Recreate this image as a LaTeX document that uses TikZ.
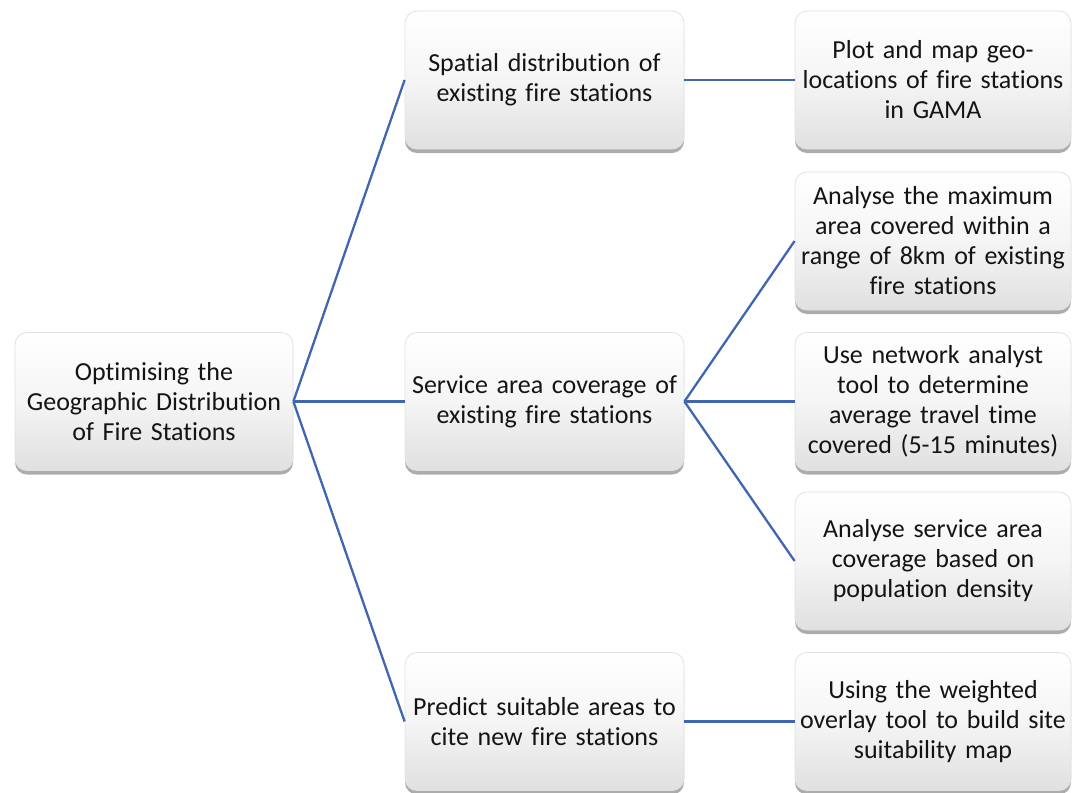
\documentclass[tikz,border=0pt]{standalone}
\usepackage{fontspec}
\setmainfont{Carlito}[Ligatures=NoCommon]
\usetikzlibrary{shadows}
\definecolor{linkblue}{RGB}{64,102,176}
\definecolor{boxline}{RGB}{225,225,225}
\definecolor{boxbot}{RGB}{224,224,224}
\definecolor{txt}{RGB}{20,20,20}
\tikzset{
  box/.style={rectangle, rounded corners=12pt, draw=boxline, line width=0.8pt,
    top color=white, bottom color=boxbot, middle color=white!96!black,
    drop shadow={shadow xshift=0pt, shadow yshift=-4pt, opacity=0.5, fill=black!65},
    minimum height=138pt, align=center, text=txt, inner sep=2pt,
    font=\fontsize{26}{30}\selectfont},
  rootbox/.style={box, minimum width=278pt, text width=274pt},
  midbox/.style={box, minimum width=279pt, text width=275pt},
  leafbox/.style={box, minimum width=276pt, text width=272pt},
  link/.style={draw=linkblue, line width=2.3pt}
}
\begin{document}
\begin{tikzpicture}[x=1pt,y=-1pt]
\useasboundingbox (0,0) rectangle (1072,793);
\node[rootbox] (root) at (154,401.5) {Optimising the\\Geographic Distribution\\of Fire Stations};
\node[midbox] (spatial) at (544.5,80) {Spatial distribution of\\existing fire stations};
\node[midbox] (service) at (544.5,401.5) {Service area coverage of\\existing fire stations};
\node[midbox] (predict) at (544.5,721.5) {Predict suitable areas to\\cite new fire stations};
\node[leafbox] (plot) at (933,80) {Plot and map geo-\\locations of fire stations\\in GAMA};
\node[leafbox] (maxarea) at (933,241) {Analyse the maximum\\area covered within a\\range of 8km of existing\\fire stations};
\node[leafbox] (network) at (933,401.5) {Use network analyst\\tool to determine\\average travel time\\covered (5-15 minutes)};
\node[leafbox] (density) at (933,561) {Analyse service area\\coverage based on\\population density};
\node[leafbox] (overlay) at (933,721.5) {Using the weighted\\overlay tool to build site\\suitability map};
\draw[link] (root.east) -- (spatial.west);
\draw[link] (root.east) -- (service.west);
\draw[link] (root.east) -- (predict.west);
\draw[link] (spatial.east) -- (plot.west);
\draw[link] (service.east) -- (maxarea.west);
\draw[link] (service.east) -- (network.west);
\draw[link] (service.east) -- (density.west);
\draw[link] (predict.east) -- (overlay.west);
\end{tikzpicture}
\end{document}
